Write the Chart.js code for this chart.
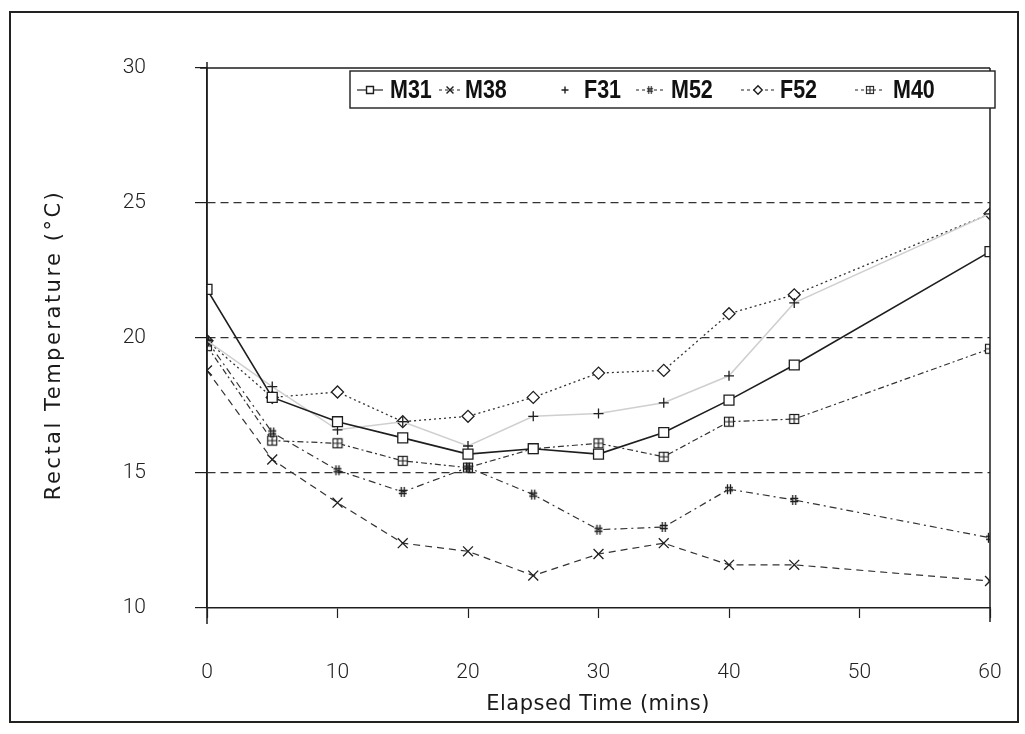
<!DOCTYPE html>
<html>
<head>
<meta charset="utf-8">
<title>Rectal Temperature</title>
<script src="https://cdn.jsdelivr.net/npm/chart.js@4.4.1/dist/chart.umd.min.js"></script>
<style>
  html, body { margin: 0; padding: 0; background: #fff; }
  #wrap { position: relative; width: 1025px; height: 734px; }
</style>
</head>
<body>
<div id="wrap"><canvas id="temps" width="1025" height="734"></canvas></div>
<script>
// elapsed time (mins) and rectal temperature (°C) per animal
const times = [0, 5, 10, 15, 20, 25, 30, 35, 40, 45, 60];
const m31 = [21.8, 17.8, 16.9, 16.3, 15.7, 15.9, 15.7, 16.5, 17.7, 19.0, 23.2];
const m38 = [18.8, 15.5, 13.9, 12.4, 12.1, 11.2, 12.0, 12.4, 11.6, 11.6, 11.0];
const f31 = [19.9, 18.2, 16.6, 16.9, 16.0, 17.1, 17.2, 17.6, 18.6, 21.3, 24.6];
const m52 = [19.9, 16.5, 15.1, 14.3, 15.2, 14.2, 12.9, 13.0, 14.4, 14.0, 12.6];
const f52 = [19.9, 17.8, 18.0, 16.9, 17.1, 17.8, 18.7, 18.8, 20.9, 21.6, 24.6];
const m40 = [19.7, 16.2, 16.1, 15.45, 15.2, 15.9, 16.1, 15.6, 16.9, 17.0, 19.6];

const xTicks = [0, 10, 20, 30, 40, 50, 60];
const yTicks = [10, 15, 20, 25, 30];
const xTitle = "Elapsed Time (mins)";
const yTitle = "Rectal Temperature (°C)";

const ink = "#1e1e1e";

// little marker images for the two symbols Chart.js doesn't have
function hashMark(size) {
  const c = document.createElement("canvas");
  c.width = size; c.height = size + 2;
  const g = c.getContext("2d");
  g.strokeStyle = ink; g.lineWidth = 1.3;
  const a = size * 0.35, b = size * 0.65;
  g.beginPath();
  g.moveTo(a, 1); g.lineTo(a, size + 1);
  g.moveTo(b, 1); g.lineTo(b, size + 1);
  g.moveTo(1, a + 1); g.lineTo(size - 1, a + 1);
  g.moveTo(1, b + 1); g.lineTo(size - 1, b + 1);
  g.stroke();
  return c;
}
function boxPlus(size) {
  const c = document.createElement("canvas");
  c.width = size; c.height = size;
  const g = c.getContext("2d");
  g.fillStyle = "#fff"; g.fillRect(1, 1, size - 2, size - 2);
  g.strokeStyle = ink; g.lineWidth = 1.2;
  g.strokeRect(1.5, 1.5, size - 3, size - 3);
  g.beginPath();
  g.moveTo(size / 2, 1.5); g.lineTo(size / 2, size - 1.5);
  g.moveTo(1.5, size / 2); g.lineTo(size - 1.5, size / 2);
  g.stroke();
  return c;
}

const pts = (arr) => times.map((t, i) => ({ x: t, y: arr[i] }));

const series = [
  { label: "M31", data: m31, style: "rect", r: 7, dash: [], color: ink, width: 1.6 },
  { label: "M38", data: m38, style: "crossRot", r: 7, dash: [7, 5], color: "#333", width: 1.2 },
  { label: "F31", data: f31, style: "cross", r: 5, dash: [], color: "#cfcfcf", width: 1.5 },
  { label: "M52", data: m52, style: hashMark(10), dash: [7, 4, 2, 4], color: "#333", width: 1.2 },
  { label: "F52", data: f52, style: "rectRot", r: 6, dash: [2, 3], color: "#333", width: 1.3 },
  { label: "M40", data: m40, style: boxPlus(12), dash: [6, 3, 2, 3], color: "#333", width: 1.2 },
];

// legend: symbol centre, half line length, text start
const legendPos = [
  { cx: 370, half: 13, txt: 390 },
  { cx: 450, half: 11, txt: 465 },
  { cx: 565, half: 0, txt: 584 },
  { cx: 650, half: 14, txt: 671 },
  { cx: 758, half: 17, txt: 780 },
  { cx: 870, half: 15, txt: 893 },
];

const framePlugin = {
  id: "frame",
  beforeDraw(chart) {
    const ctx = chart.ctx;
    ctx.save();
    ctx.fillStyle = "#fff";
    ctx.fillRect(0, 0, chart.width, chart.height);
    ctx.strokeStyle = "#222";
    ctx.lineWidth = 2;
    ctx.strokeRect(10, 12, 1008, 710);
    ctx.restore();
  },
  afterDraw(chart) {
    const ctx = chart.ctx;
    const a = chart.chartArea;
    ctx.save();
    ctx.strokeStyle = ink;
    ctx.lineWidth = 1.5;
    ctx.beginPath();
    ctx.moveTo(a.left - 7, a.top); ctx.lineTo(a.right, a.top);
    ctx.moveTo(a.right, a.top); ctx.lineTo(a.right, a.bottom + 14);
    ctx.moveTo(a.left, a.top - 6); ctx.lineTo(a.left, a.bottom + 16);
    ctx.stroke();

    // legend box
    ctx.fillStyle = "#fff";
    ctx.fillRect(350, 71, 645, 37);
    ctx.lineWidth = 1.4;
    ctx.strokeRect(350, 71, 645, 37);
    ctx.textBaseline = "middle";
    series.forEach((s, i) => {
      const p = legendPos[i];
      const cy = 90;
      if (p.half > 0) {
        ctx.save();
        ctx.strokeStyle = "#222";
        ctx.lineWidth = 1.2;
        ctx.setLineDash(s.dash.length ? [3, 3] : []);
        ctx.beginPath();
        ctx.moveTo(p.cx - p.half, cy); ctx.lineTo(p.cx + p.half, cy);
        ctx.stroke();
        ctx.restore();
      }
      if (typeof s.style === "string") {
        ctx.save();
        ctx.strokeStyle = ink; ctx.fillStyle = "#fff";
        Chart.helpers.drawPoint(ctx, { pointStyle: s.style, radius: s.r * 0.7, rotation: 0, borderWidth: 1.1 }, p.cx, cy);
        ctx.restore();
      } else {
        const w = s.style.width * 0.8, h = s.style.height * 0.8;
        ctx.drawImage(s.style, p.cx - w / 2, cy - h / 2, w, h);
      }
      // condensed bold label
      ctx.save();
      ctx.translate(p.txt, cy + 1);
      ctx.scale(0.86, 1);
      ctx.font = 'bold 25px "Liberation Sans", Arial, sans-serif';
      ctx.fillStyle = "#111";
      ctx.fillText(s.label, 0, 0);
      ctx.restore();
    });

    // axis titles
    ctx.fillStyle = "#1a1a1a";
    ctx.font = '500 21px "DejaVu Sans", sans-serif';
    ctx.textAlign = "center";
    ctx.textBaseline = "middle";
    ctx.letterSpacing = "0.5px";
    ctx.fillText(xTitle, 598, 705);
    ctx.save();
    ctx.translate(55, 345);
    ctx.rotate(-Math.PI / 2);
    ctx.letterSpacing = "2.5px";
    ctx.fillText(yTitle, 0, 0);
    ctx.restore();
    ctx.letterSpacing = "0px";
    ctx.restore();
  },
};

const tickFont = { family: "Roboto, 'Open Sans', sans-serif", size: 21, weight: 300 };

new Chart(document.getElementById("temps"), {
  type: "line",
  data: {
    datasets: series.map((s) => ({
      label: s.label,
      data: pts(s.data),
      borderColor: s.color,
      borderWidth: s.width,
      borderDash: s.dash,
      fill: false,
      tension: 0,
      pointStyle: s.style,
      pointRadius: s.r || 6,
      pointBorderColor: ink,
      pointBackgroundColor: "#fff",
      pointBorderWidth: 1.3,
    })),
  },
  options: {
    responsive: false,
    animation: false,
    layout: { padding: { top: 68, right: 35, left: 0, bottom: 0 } },
    plugins: { legend: { display: false }, tooltip: { enabled: false } },
    scales: {
      x: {
        type: "linear",
        min: 0,
        max: 60,
        afterBuildTicks: (s) => { s.ticks = xTicks.map((v) => ({ value: v })); },
        afterFit: (s) => { s.height = 126; s.paddingRight = 0; s.paddingLeft = 0; },
        ticks: { font: tickFont, color: "#222", padding: 42, maxRotation: 0 },
        grid: { drawOnChartArea: false, tickLength: 10, tickColor: ink, tickWidth: 1.2 },
        border: { color: ink, width: 1.5 },
      },
      y: {
        min: 10,
        max: 30,
        afterBuildTicks: (s) => { s.ticks = yTicks.map((v) => ({ value: v })); },
        afterFit: (s) => { s.width = 207; },
        ticks: { font: tickFont, color: "#222", padding: 49 },
        grid: {
          color: (c) => (c.tick && c.tick.value > 10 && c.tick.value < 30 ? "#333" : "rgba(0,0,0,0)"),
          lineWidth: 1.2,
          tickLength: 12,
          tickColor: ink,
          tickBorderDash: [],
          tickWidth: 1.2,
        },
        border: { color: ink, width: 1.5, dash: [8, 5] },
      },
    },
  },
  plugins: [framePlugin],
});
</script>
</body>
</html>
